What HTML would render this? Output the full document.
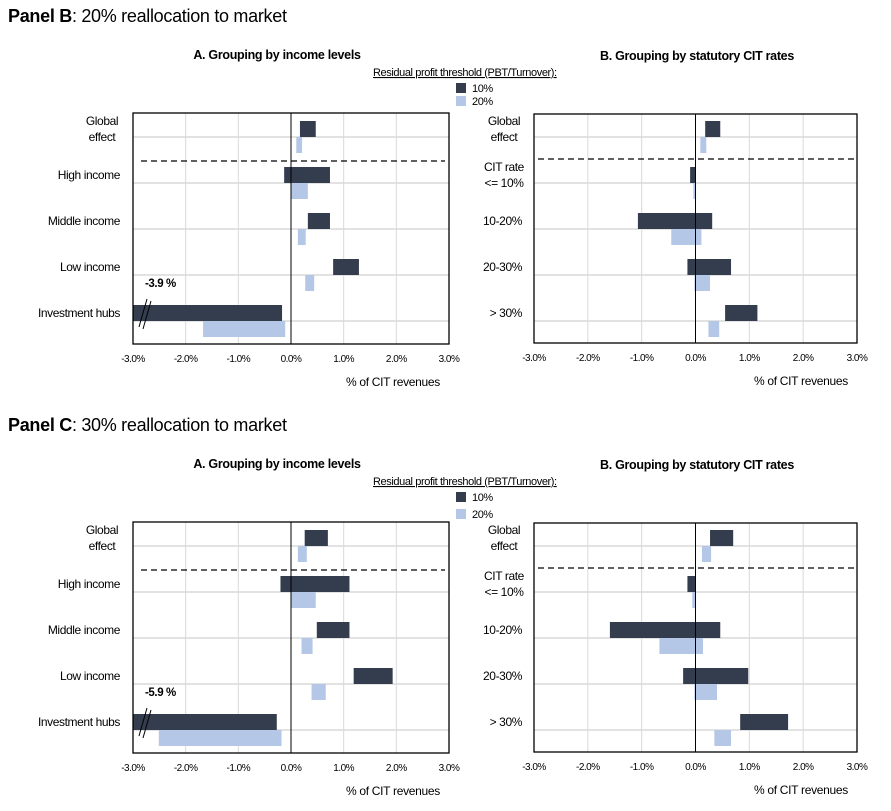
<!DOCTYPE html>
<html><head><meta charset="utf-8">
<style>
body{margin:0;background:#fff;}
svg{display:block;font-family:"Liberation Sans",Arial,sans-serif;}
</style></head>
<body>
<svg id="chart" width="891" height="811" viewBox="0 0 891 811" xmlns="http://www.w3.org/2000/svg"></svg>
<script>
// ---- data (values in % of CIT revenues; each bar is [start, end]) ----
const ticks = [-3, -2, -1, 0, 1, 2, 3];
const tickLabels = ["-3.0%", "-2.0%", "-1.0%", "0.0%", "1.0%", "2.0%", "3.0%"];
const incomeCats = ["Global effect", "High income", "Middle income", "Low income", "Investment hubs"];
const citCats = ["Global effect", "CIT rate <= 10%", "10-20%", "20-30%", "> 30%"];
const seriesNames = ["10%", "20%"];

const bIncome10 = [[0.17,0.47],[-0.13,0.74],[0.32,0.74],[0.80,1.29],[-3.9,-0.17]];
const bIncome20 = [[0.10,0.21],[0.0,0.32],[0.13,0.28],[0.27,0.44],[-1.67,-0.11]];
const bCit10 = [[0.18,0.46],[-0.10,0.0],[-1.07,0.31],[-0.15,0.66],[0.55,1.15]];
const bCit20 = [[0.09,0.20],[-0.04,-0.01],[-0.45,0.11],[-0.02,0.27],[0.24,0.44]];

const cIncome10 = [[0.26,0.70],[-0.20,1.11],[0.49,1.11],[1.19,1.93],[-5.9,-0.27]];
const cIncome20 = [[0.13,0.30],[0.0,0.47],[0.20,0.41],[0.39,0.66],[-2.51,-0.18]];
const cCit10 = [[0.27,0.70],[-0.15,0.0],[-1.59,0.46],[-0.23,0.98],[0.83,1.72]];
const cCit20 = [[0.12,0.29],[-0.06,-0.01],[-0.67,0.14],[-0.02,0.40],[0.35,0.66]];

const DARK = "#343d4e", LIGHT = "#b4c7e7", GRID = "#d9d9d9";
const NS = "http://www.w3.org/2000/svg";
const svg = document.getElementById("chart");

function mk(tag, attrs, parent, text){
  const e = document.createElementNS(NS, tag);
  for (const k in attrs) e.setAttribute(k, attrs[k]);
  if (text !== undefined) e.textContent = text;
  (parent || svg).appendChild(e);
  return e;
}

function drawChart(opt){
  const g = mk("g", {});
  
  
  const x0 = opt.x0, x1 = opt.x1, y0 = opt.y0, y1 = opt.y1;
  const xs = v => x0 + (Math.max(-3, Math.min(3, v)) + 3) / 6 * (x1 - x0);
  const rowGrid = i => opt.gridTop + i * opt.rowStep;
  ticks.forEach((t, i) => {
    if (t !== 0 && Math.abs(t) !== 3) {
      const l = mk("line", {x1: xs(t), x2: xs(t), y1: y0, y2: y1, stroke: GRID, "stroke-width": 1}, g);
      
      
    }
    const tl = mk("text", {x: xs(t), y: y1 + 18, "font-size": 10, "text-anchor": "middle", fill: "#000", "letter-spacing": "-0.5"}, g, tickLabels[i]);
    
    
  });
  opt.cats.forEach((c, i) => {
    const l = mk("line", {x1: x0, x2: x1, y1: rowGrid(i), y2: rowGrid(i), stroke: GRID, "stroke-width": 1.5}, g);
    
    
  });
  [opt.s1, opt.s2].forEach((ser, si) => {
    ser.forEach((d, i) => {
      const a = xs(Math.min(d[0], d[1])), b = xs(Math.max(d[0], d[1]));
      const gy = rowGrid(i);
      const r = mk("rect", {x: a, y: si === 0 ? gy - 16 : gy, width: Math.max(1, b - a), height: 16, fill: si === 0 ? DARK : LIGHT}, g);
      
      
      if (d[0] < -3 || d[1] < -3) {
        const v = Math.min(d[0], d[1]);
        const bx = x0 + 12, by = gy - 8;
        const l1 = mk("line", {x1: bx - 6, y1: by + 14, x2: bx + 2, y2: by - 14, stroke: "#000", "stroke-width": 1}, g);
        
        
        const l2 = mk("line", {x1: bx - 2, y1: by + 16, x2: bx + 6, y2: by - 12, stroke: "#000", "stroke-width": 1}, g);
        
        
        const lb = mk("text", {x: x0 + 12, y: gy - 34, "font-size": 11.5, "font-weight": "bold", fill: "#000", "letter-spacing": "-0.4"}, g, v.toFixed(1) + " %");
        
        
      }
    });
  });
  const z = mk("line", {x1: xs(0), x2: xs(0), y1: y0, y2: y1, stroke: "#000", "stroke-width": 1}, g);
  
  
  const ds = mk("line", {x1: opt.dashX0, x2: opt.dashX1, y1: opt.dashY, y2: opt.dashY, stroke: "#000", "stroke-width": 1.2, "stroke-dasharray": "6,4"}, g);
  
  
  const fr = mk("rect", {x: x0, y: y0, width: x1 - x0, height: y1 - y0, fill: "none", stroke: "#000", "stroke-width": 1.3}, g);
  
  
  opt.cats.forEach((c, i) => {
    const gy = rowGrid(i);
    let lines = [c];
    if (c === "Global effect") lines = ["Global", "effect"];
    if (c === "CIT rate <= 10%") lines = ["CIT rate", "<= 10%"];
    const t = mk("text", {x: opt.labelX, y: 0, "font-size": 12, "text-anchor": lines.length > 1 ? "middle" : "end", fill: "#000", "letter-spacing": "-0.4"}, g);
    
    
    if (lines.length > 1) {
      lines.forEach((ln, k) => {
        mk("tspan", {x: opt.labelX - 18, y: gy - 12 + k * 16}, t, ln);
      });
    } else {
      t.setAttribute("y", gy - 4);
      t.textContent = c;
    }
  });
  const tt = mk("text", {x: opt.titleX, y: y0 - 54, "font-size": 12.5, "font-weight": "bold", "text-anchor": "middle", fill: "#000", "letter-spacing": "-0.3"}, g, opt.title);
  
  
  const xt = mk("text", {x: x1 - 9, y: y1 + 42, "font-size": 12, "text-anchor": "end", fill: "#000", "letter-spacing": "-0.3"}, g, "% of CIT revenues");
  
  
}

function drawLegend(x, y, gap){
  const g = mk("g", {});
  
  
  const t = mk("text", {x: x, y: y, "font-size": 11, fill: "#000", "text-decoration": "underline", "letter-spacing": "-0.4"}, g, "Residual profit threshold (PBT/Turnover):");
  
  
  seriesNames.forEach((s, i) => {
    const r = mk("rect", {x: x + 83, y: y + 7 + i * gap, width: 10, height: 10, fill: i === 0 ? DARK : LIGHT}, g);
    
    
    const lt = mk("text", {x: x + 99, y: y + 16 + i * gap, "font-size": 11, fill: "#000", "letter-spacing": "-0.4"}, g, s);
    
    
  });
}

function panel(off, title, sub, inc10, inc20, cit10, cit20, legGap){
  const h = mk("text", {x: 8, y: 22 + off, "font-size": 18, fill: "#000", "letter-spacing": "-0.3"});
  
  
  mk("tspan", {"font-weight": "bold"}, h, title);
  mk("tspan", {}, h, sub);
  drawChart({name: 'income-chart', x0: 133, x1: 449, y0: 113 + off, y1: 344 + off, gridTop: 137 + off, rowStep: 46,
    cats: incomeCats, s1: inc10, s2: inc20, labelX: 120, dashX0: 141, dashX1: 445, dashY: 161 + off,
    title: "A. Grouping by income levels", titleX: 277});
  drawChart({name: 'cit-rate-chart', x0: 534, x1: 857, y0: 114 + off, y1: 343 + off, gridTop: 137 + off, rowStep: 46,
    cats: citCats, s1: cit10, s2: cit20, labelX: 522, dashX0: 538, dashX1: 857, dashY: 159 + off,
    title: "B. Grouping by statutory CIT rates", titleX: 697});
  drawLegend(373, 76 + off, legGap);
}

panel(0, "Panel B", ": 20% reallocation to market", bIncome10, bIncome20, bCit10, bCit20, 13);
panel(409, "Panel C", ": 30% reallocation to market", cIncome10, cIncome20, cCit10, cCit20, 17);
</script>
</body></html>
